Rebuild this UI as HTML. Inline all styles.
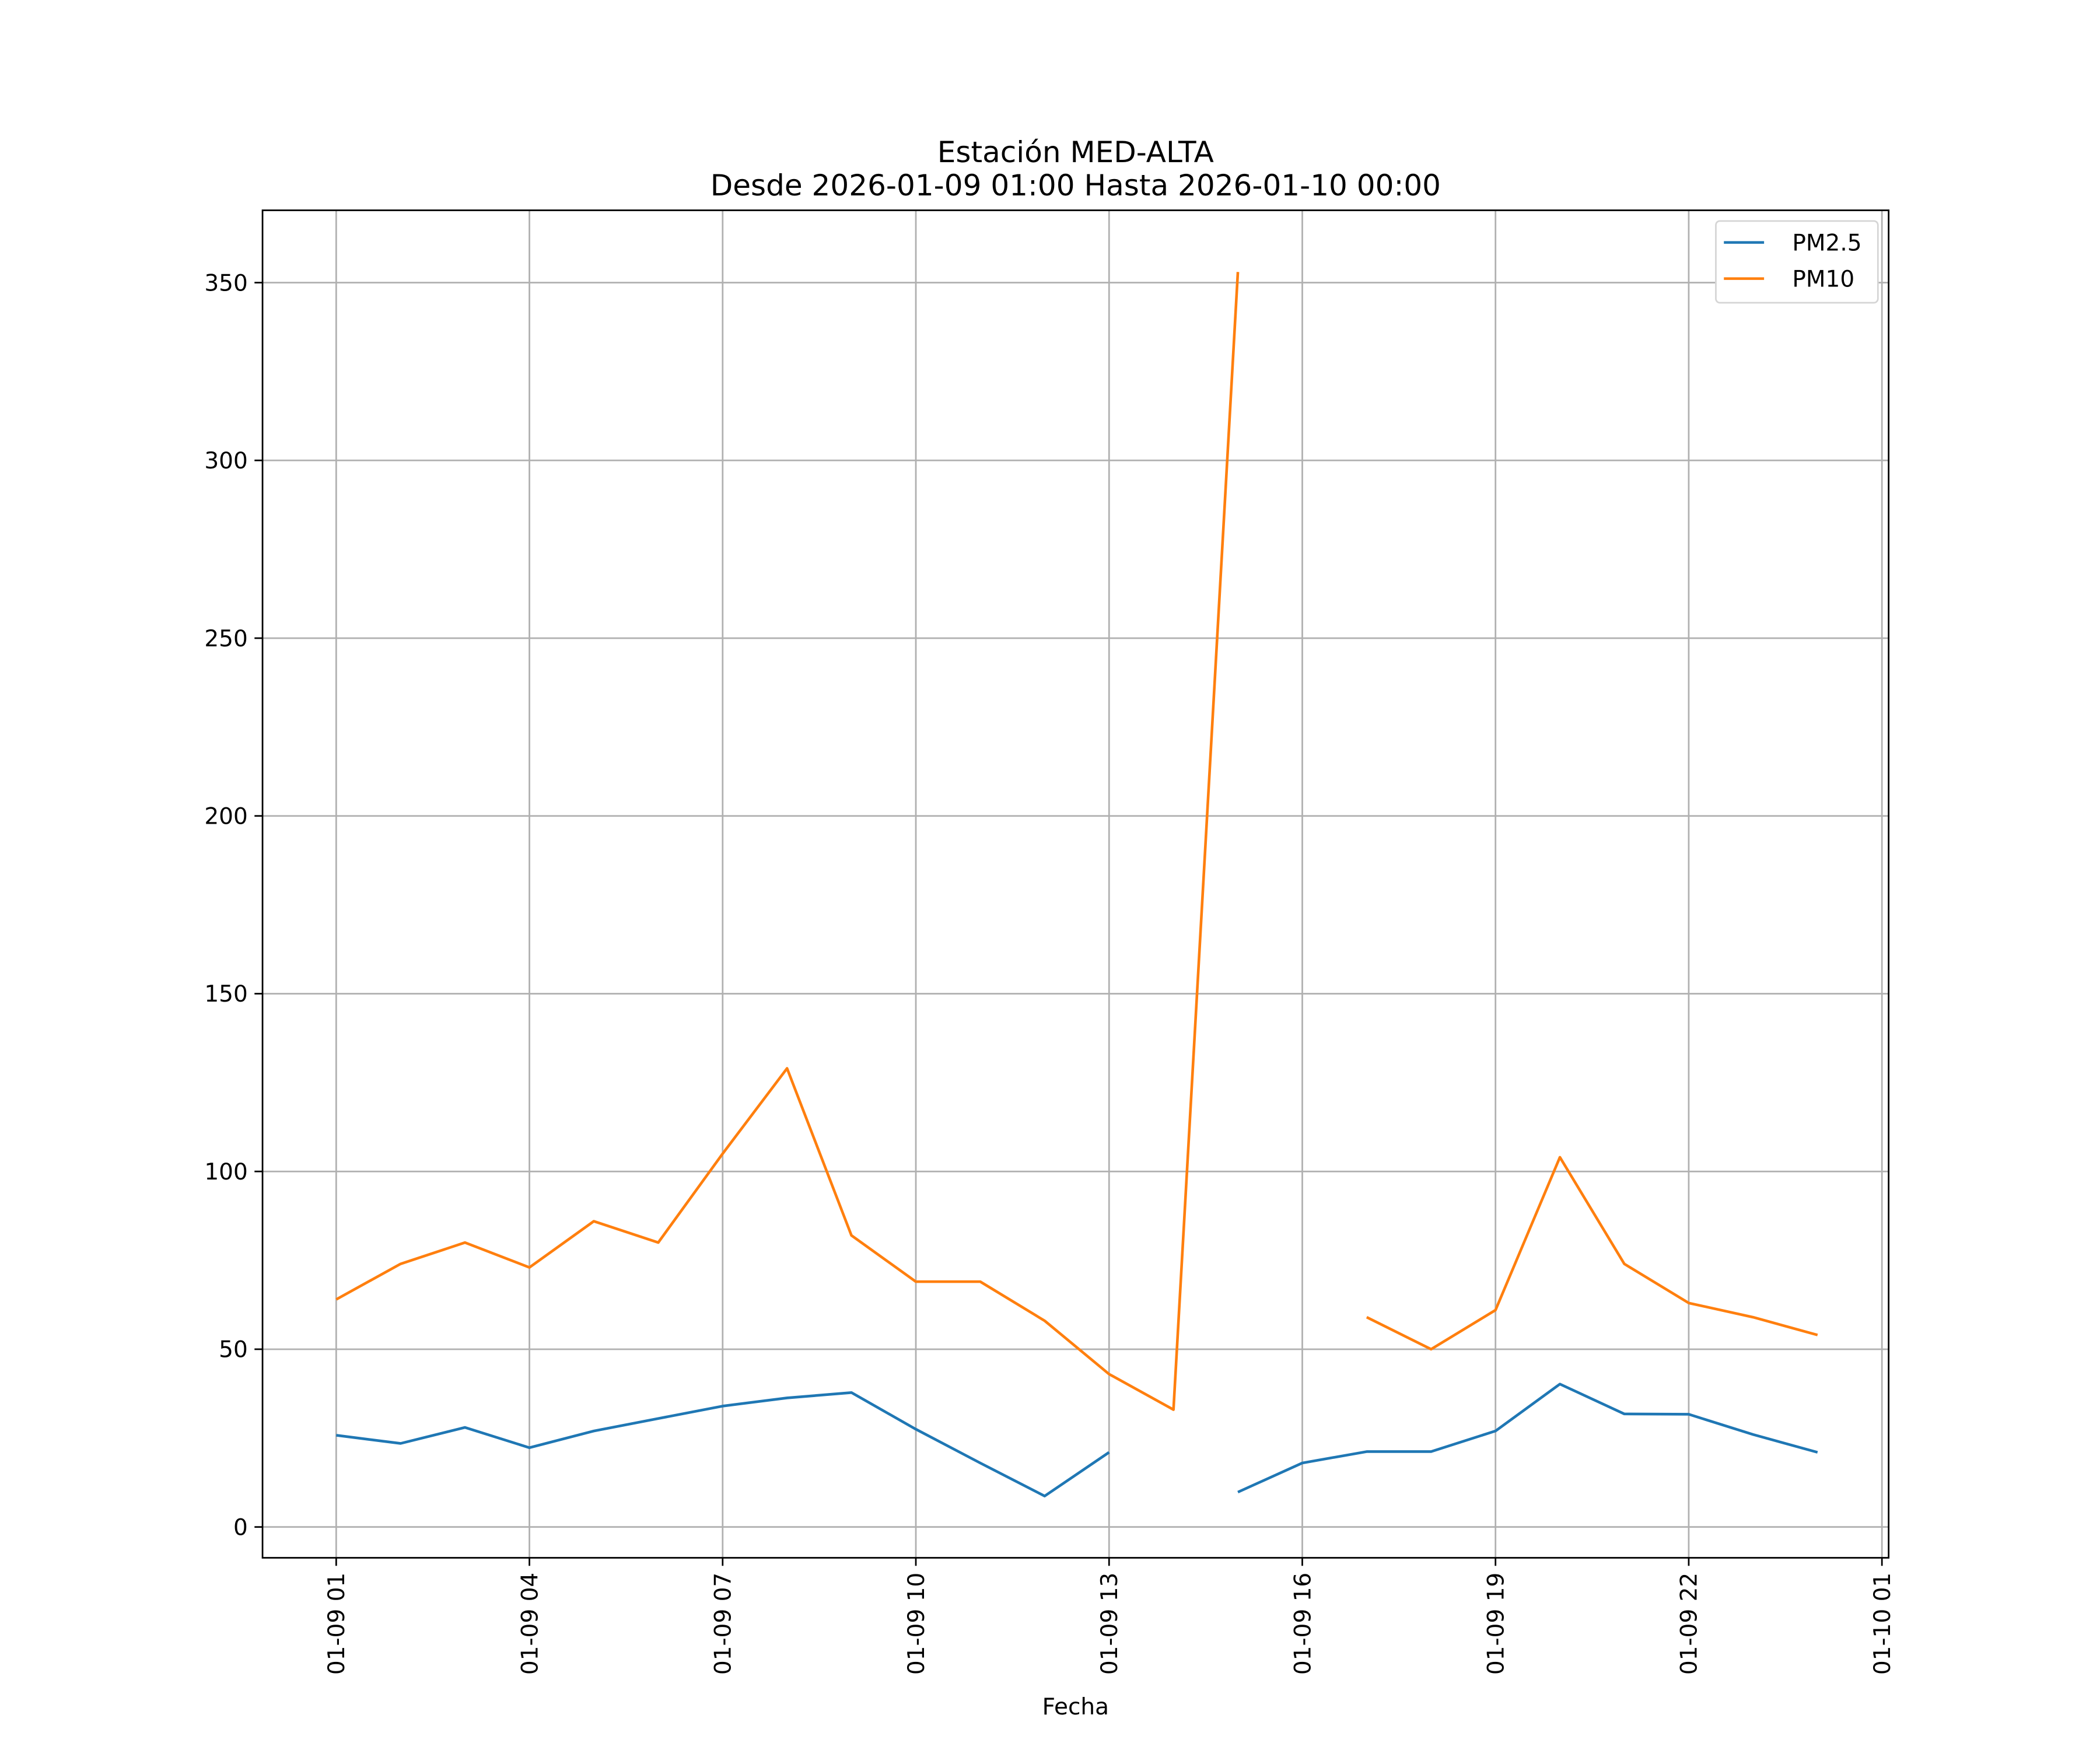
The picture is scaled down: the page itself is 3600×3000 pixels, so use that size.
<!DOCTYPE html>
<html><head><meta charset="utf-8"><style>html,body{margin:0;padding:0;background:#fff}svg{display:block}text{font-family:"DejaVu Sans","Liberation Sans",sans-serif;fill:#000}</style></head>
<body>
<svg id="chart" width="3600" height="3000" viewBox="0 0 1567.8 1306.5" xmlns="http://www.w3.org/2000/svg">
<g id="grid"></g>
<g id="series"></g>
<rect x="196" y="157" width="1214" height="1006" fill="none" stroke="#000" stroke-width="1.2"/>
<g id="ticks"></g>
<text x="803" y="121" font-size="21.8" text-anchor="middle">Estación MED-ALTA</text>
<text x="803" y="146" font-size="21.8" text-anchor="middle">Desde 2026-01-09 01:00 Hasta 2026-01-10 00:00</text>
<text x="803" y="1280" font-size="17" text-anchor="middle">Fecha</text>
<g>
<rect x="1281" y="165" width="121" height="61" fill="#fff" stroke="#d5d5d5" stroke-width="1.2" rx="3"/>
<line x1="1287" y1="181" x2="1317" y2="181" stroke="#1f77b4" stroke-width="2"/>
<text x="1338" y="187" font-size="17">PM2.5</text>
<line x1="1287" y1="208" x2="1317" y2="208" stroke="#ff7f0e" stroke-width="2"/>
<text x="1338" y="214" font-size="17">PM10</text>
</g>
</svg>
<script>
const hours=[1,2,3,4,5,6,7,8,9,10,11,12,13,14,15,16,17,18,19,20,21,22,23,24];
const pm25=[25.8,23.5,28,22.3,27,30.5,34,36.3,37.8,27.5,18,8.7,21,null,9.8,18,21.2,21.2,27,40.2,31.8,31.7,26,21];
const pm10=[64,74,80,73,86,80,105,129,82,69,69,58,43,33,353,null,59,50,61,104,74,63,59,54];
const yTicks=[0,50,100,150,200,250,300,350];
const xTickHours=[1,4,7,10,13,16,19,22,25];
const xTickLabels=["01-09 01","01-09 04","01-09 07","01-09 10","01-09 13","01-09 16","01-09 19","01-09 22","01-10 01"];
const NS="http://www.w3.org/2000/svg";
const X=h=>251+(h-1)*(1405-251)/24;
const Y=v=>1140-v*(1140-211)/350;
function mk(tag,attrs,parent){const e=document.createElementNS(NS,tag);for(const k in attrs)e.setAttribute(k,attrs[k]);parent.appendChild(e);return e;}
const grid=document.getElementById('grid'),ticks=document.getElementById('ticks'),series=document.getElementById('series');
yTicks.forEach(v=>{
 const g=mk('line',{x1:196,x2:1410,y1:Y(v),y2:Y(v),stroke:'#b0b0b0','stroke-width':1.2},grid);
 
 
 mk('line',{x1:190,x2:196,y1:Y(v),y2:Y(v),stroke:'#000','stroke-width':1.2},ticks);
 const t=mk('text',{x:185,y:Y(v)+6,'font-size':17,'text-anchor':'end'},ticks);
 t.textContent=v;
 
 
});
xTickHours.forEach((h,i)=>{
 const x=X(h);
 const g=mk('line',{x1:x,x2:x,y1:157,y2:1163,stroke:'#b0b0b0','stroke-width':1.2},grid);
 
 
 mk('line',{x1:x,x2:x,y1:1163,y2:1169,stroke:'#000','stroke-width':1.2},ticks);
 const t=mk('text',{x:0,y:0,'font-size':17,'text-anchor':'end',transform:`translate(${x+6},1174) rotate(-90)`},ticks);
 t.textContent=xTickLabels[i];
 
 
});
function draw(vals,color,name){
 let d='',pen=false;
 vals.forEach((v,i)=>{if(v==null){pen=false;return;}d+=(pen?'L':'M')+X(hours[i])+' '+Y(v)+' ';pen=true;});
 const p=mk('path',{d:d,fill:'none',stroke:color,'stroke-width':2,'stroke-linejoin':'round'},series);
 
 
}
draw(pm10,'#ff7f0e','pm10-line');
draw(pm25,'#1f77b4','pm25-line');
</script>
</body></html>
